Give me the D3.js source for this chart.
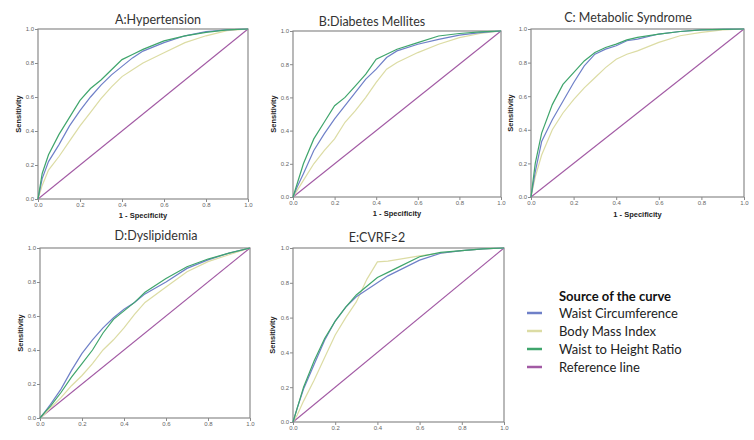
<!DOCTYPE html>
<html><head><meta charset="utf-8">
<script src="https://cdn.jsdelivr.net/npm/d3@7"></script>
<style>body{margin:0;background:#fff}svg{display:block}</style>
</head><body>
<svg id="c" width="754" height="440"></svg>
<script>
// ---------- data ----------
const fpr = [0, 0.02, 0.05, 0.1, 0.15, 0.2, 0.25, 0.3, 0.35, 0.4, 0.45, 0.5, 0.6, 0.7, 0.8, 0.9, 1.0];
const seriesNames = ["Waist Circumference", "Body Mass Index", "Waist to Height Ratio", "Reference line"];
const seriesColors = ["#6f80c8", "#dcdca4", "#3fa56c", "#a25aa4"];
const tickValues = [0, 0.2, 0.4, 0.6, 0.8, 1.0];
const panelTitles = ["A:Hypertension", "B:Diabetes Mellites", "C: Metabolic Syndrome", "D:Dyslipidemia", "E:CVRF\u22652"];

// sensitivity values at each fpr, per panel
const A_WC   = [0, 0.12, 0.22, 0.32, 0.43, 0.52, 0.60, 0.67, 0.73, 0.78, 0.83, 0.87, 0.92, 0.96, 0.985, 0.995, 1];
const A_BMI  = [0, 0.08, 0.17, 0.25, 0.34, 0.43, 0.51, 0.59, 0.66, 0.72, 0.76, 0.80, 0.86, 0.92, 0.96, 0.99, 1];
const A_WHtR = [0, 0.15, 0.26, 0.38, 0.48, 0.58, 0.65, 0.70, 0.76, 0.82, 0.85, 0.88, 0.93, 0.96, 0.98, 0.995, 1];

const B_WC   = [0, 0.06, 0.14, 0.28, 0.38, 0.47, 0.55, 0.63, 0.71, 0.77, 0.84, 0.88, 0.92, 0.95, 0.975, 0.99, 1];
const B_BMI  = [0, 0.04, 0.10, 0.20, 0.28, 0.35, 0.45, 0.52, 0.60, 0.69, 0.77, 0.81, 0.87, 0.92, 0.96, 0.985, 1];
const B_WHtR = [0, 0.08, 0.20, 0.35, 0.45, 0.55, 0.60, 0.67, 0.74, 0.83, 0.86, 0.89, 0.93, 0.97, 0.985, 0.995, 1];

const C_WC   = [0, 0.15, 0.33, 0.46, 0.57, 0.68, 0.78, 0.85, 0.88, 0.90, 0.93, 0.94, 0.97, 0.985, 0.995, 0.998, 1];
const C_BMI  = [0, 0.12, 0.25, 0.40, 0.50, 0.58, 0.65, 0.71, 0.77, 0.82, 0.85, 0.87, 0.92, 0.96, 0.98, 0.995, 1];
const C_WHtR = [0, 0.20, 0.38, 0.55, 0.67, 0.74, 0.81, 0.86, 0.89, 0.91, 0.935, 0.95, 0.97, 0.985, 0.995, 0.998, 1];

const D_WC   = [0, 0.03, 0.08, 0.17, 0.28, 0.38, 0.46, 0.53, 0.59, 0.64, 0.68, 0.73, 0.80, 0.88, 0.93, 0.97, 1];
const D_BMI  = [0, 0.02, 0.06, 0.12, 0.19, 0.25, 0.32, 0.40, 0.46, 0.53, 0.61, 0.68, 0.77, 0.86, 0.92, 0.96, 1];
const D_WHtR = [0, 0.03, 0.07, 0.15, 0.24, 0.32, 0.40, 0.50, 0.58, 0.63, 0.68, 0.74, 0.82, 0.89, 0.935, 0.97, 1];

const E_WC   = [0, 0.08, 0.19, 0.33, 0.47, 0.58, 0.66, 0.72, 0.76, 0.80, 0.84, 0.87, 0.93, 0.97, 0.985, 0.995, 1];
const E_BMI  = [0, 0.04, 0.12, 0.24, 0.37, 0.50, 0.60, 0.69, 0.82, 0.92, 0.925, 0.935, 0.955, 0.97, 0.985, 0.995, 1];
const E_WHtR = [0, 0.08, 0.20, 0.35, 0.48, 0.58, 0.66, 0.73, 0.78, 0.83, 0.86, 0.89, 0.95, 0.975, 0.985, 0.995, 1];

const panelData = [
  [A_WC, A_BMI, A_WHtR],
  [B_WC, B_BMI, B_WHtR],
  [C_WC, C_BMI, C_WHtR],
  [D_WC, D_BMI, D_WHtR],
  [E_WC, E_BMI, E_WHtR]
];

// ---------- layout ----------
const layout = [
  {l:38,  r:248, t:29,  b:199, tx:158, ty:24,  xl:218, yl:18},
  {l:293, r:501, t:31,  b:197, tx:372, ty:26,  xl:216, yl:273},
  {l:531, r:744, t:29,  b:197, tx:628, ty:22,  xl:217, yl:510},
  {l:40,  r:250, t:248, b:418, tx:156, ty:240, xl:null, yl:20},
  {l:293, r:504, t:248, b:422, tx:377, ty:242, xl:null, yl:272}
];

const svg = d3.select("#c");
const fmt = d3.format(".1f");

layout.forEach((p, i) => {
  const x = d3.scaleLinear().domain([0, 1]).range([p.l, p.r]);
  const y = d3.scaleLinear().domain([0, 1]).range([p.b, p.t]);
  const g = svg.append("g");

  // frame
  g.append("rect").attr("x", p.l).attr("y", p.t).attr("width", p.r - p.l).attr("height", p.b - p.t)
    .attr("fill", "none").attr("stroke", "#8a8a8a").attr("stroke-width", 1.2);

  // axes
  const xa = g.append("g").attr("transform", `translate(0,${p.b})`)
    .call(d3.axisBottom(x).tickValues(tickValues).tickFormat(fmt).tickSize(3).tickPadding(1));
  const ya = g.append("g").attr("transform", `translate(${p.l},0)`)
    .call(d3.axisLeft(y).tickValues(tickValues).tickFormat(fmt).tickSize(3).tickPadding(1));
  [xa, ya].forEach(a => {
    a.select(".domain").remove();
    a.selectAll("line").attr("stroke", "#8a8a8a");
    a.selectAll("text").attr("fill", "#666").style("font", "6px 'Liberation Sans', Arial, sans-serif");
  });

  // reference line
  g.append("line").attr("x1", x(0)).attr("y1", y(0)).attr("x2", x(1)).attr("y2", y(1))
    .attr("stroke", seriesColors[3]).attr("stroke-width", 1.1);

  // curves
  const line = d3.line().x((d, k) => x(fpr[k])).y(d => y(d));
  [1, 0, 2].forEach(s => {
    g.append("path").attr("d", line(panelData[i][s])).attr("fill", "none")
      .attr("stroke", seriesColors[s]).attr("stroke-width", 1.2);
  });

  // title
  g.append("text").attr("x", p.tx).attr("y", p.ty).attr("text-anchor", "middle")
    .attr("fill", "#333").style("font", "12.5px Lato, sans-serif").text(panelTitles[i]);

  // axis labels
  if (p.xl !== null) {
    g.append("text").attr("x", (p.l + p.r) / 2).attr("y", p.xl).attr("text-anchor", "middle")
      .attr("fill", "#222").style("font", "bold 7.5px 'Liberation Sans', Arial, sans-serif").text("1 - Specificity");
  }
  g.append("text").attr("transform", `translate(${p.yl + 2.5},${(p.t + p.b) / 2}) rotate(-90)`)
    .attr("text-anchor", "middle").attr("fill", "#222")
    .style("font", "bold 7.5px 'Liberation Sans', Arial, sans-serif").text("Sensitivity");
});

// ---------- legend ----------
const lg = svg.append("g");
lg.append("text").attr("x", 559).attr("y", 301).attr("fill", "#111")
  .style("font", "bold 13px Lato, sans-serif").text("Source of the curve");
seriesNames.forEach((n, k) => {
  const yy = 313 + k * 18;
  lg.append("line").attr("x1", 527).attr("x2", 542).attr("y1", yy).attr("y2", yy)
    .attr("stroke", seriesColors[k]).attr("stroke-width", 2.5);
  lg.append("text").attr("x", 559).attr("y", yy + 5).attr("fill", "#222")
    .style("font", "13px Lato, sans-serif").text(n);
});
</script>
</body></html>
